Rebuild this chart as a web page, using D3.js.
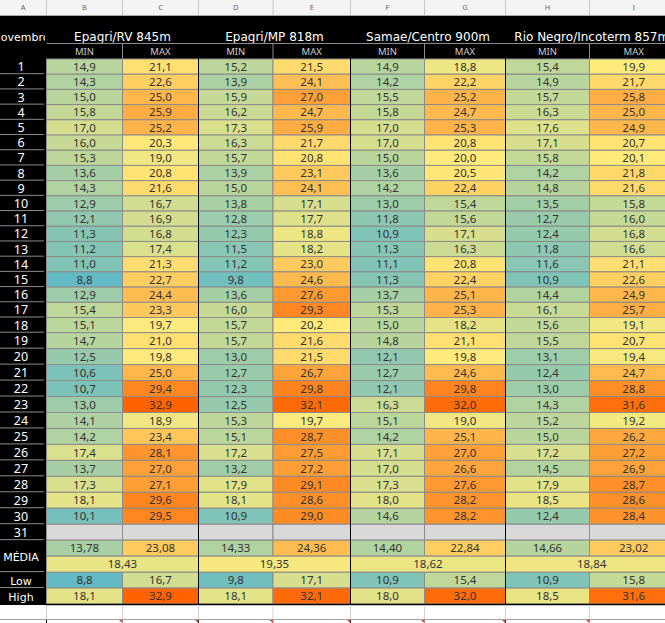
<!DOCTYPE html>
<html>
<head>
<meta charset="utf-8">
<script src="https://cdn.jsdelivr.net/npm/d3@7"></script>
<style>
  body { margin: 0; background: #fff; }
  svg { display: block; }
  text { font-family: "Noto Sans", sans-serif; }
  .wide { font-family: "DejaVu Sans", sans-serif; }
</style>
</head>
<body>
<div id="chart"></div>
<script>
const columnLetters = ["A", "B", "C", "D", "E", "F", "G", "H", "I"];
const stations = ["Epagri/RV 845m", "Epagri/MP 818m", "Samae/Centro 900m", "Rio Negro/Incoterm 857m"];
const days = d3.range(1, 32);

const rvMin = [14.9,14.3,15.0,15.8,17.0,16.0,15.3,13.6,14.3,12.9,12.1,11.3,11.2,11.0,8.8,12.9,15.4,15.1,14.7,12.5,10.6,10.7,13.0,14.1,14.2,17.4,13.7,17.3,18.1,10.1];
const rvMax = [21.1,22.6,25.0,25.9,25.2,20.3,19.0,20.8,21.6,16.7,16.9,16.8,17.4,21.3,22.7,24.4,23.3,19.7,21.0,19.8,25.0,29.4,32.9,18.9,23.4,28.1,27.0,27.1,29.6,29.5];
const mpMin = [15.2,13.9,15.9,16.2,17.3,16.3,15.7,13.9,15.0,13.8,12.8,12.3,11.5,11.2,9.8,13.6,16.0,15.7,15.7,13.0,12.7,12.3,12.5,15.3,15.1,17.2,13.2,17.9,18.1,10.9];
const mpMax = [21.5,24.1,27.0,24.7,25.9,21.7,20.8,23.1,24.1,17.1,17.7,18.8,18.2,23.0,24.6,27.6,29.3,20.2,21.6,21.5,26.7,29.8,32.1,19.7,28.7,27.5,27.2,29.1,28.6,29.0];
const samaeMin = [14.9,14.2,15.5,15.8,17.0,17.0,15.0,13.6,14.2,13.0,11.8,10.9,11.3,11.1,11.3,13.7,15.3,15.0,14.8,12.1,12.7,12.1,16.3,15.1,14.2,17.1,17.0,17.3,18.0,14.6];
const samaeMax = [18.8,22.2,25.2,24.7,25.3,20.8,20.0,20.5,22.4,15.4,15.6,17.1,16.3,20.8,22.4,25.1,25.3,18.2,21.1,19.8,24.6,29.8,32.0,19.0,25.1,27.0,26.6,27.6,28.2,28.2];
const rnMin = [15.4,14.9,15.7,16.3,17.6,17.1,15.8,14.2,14.8,13.5,12.7,12.4,11.8,11.6,10.9,14.4,16.1,15.6,15.5,13.1,12.4,13.0,14.3,15.2,15.0,17.2,14.5,17.9,18.5,12.4];
const rnMax = [19.9,21.7,25.8,25.0,24.9,20.7,20.1,21.8,21.6,15.8,16.0,16.8,16.6,21.1,22.6,24.9,25.7,19.1,20.7,19.4,24.7,28.8,31.6,19.2,26.2,27.2,26.9,28.7,28.6,28.4];

const meanMinMax = [13.78, 23.08, 14.33, 24.36, 14.40, 22.84, 14.66, 23.02];
const meanOverall = [18.43, 19.35, 18.62, 18.84];
const lowRow = [8.8, 16.7, 9.8, 17.1, 10.9, 15.4, 10.9, 15.8];
const highRow = [18.1, 32.9, 18.1, 32.1, 18.0, 32.0, 18.5, 31.6];

const series = [rvMin, rvMax, mpMin, mpMax, samaeMin, samaeMax, rnMin, rnMax];

const width = 665, height = 623;

const svg = d3.select("#chart").append("svg")
    .attr("width", width)
    .attr("height", height);

// column index -> x of left edge, the sheet columns are not all the same width
const x = d3.scaleLinear()
    .domain([0, 1, 2, 3, 4, 5, 6, 7, 8, 9])
    .range([0, 46.5, 122.5, 198.5, 273, 350.5, 424.5, 505.5, 589.5, 678]);

// row index -> y of top edge, rows get a bit taller after day 18
const y = d3.scaleLinear()
    .domain([1, 19, 36])
    .range([59, 332.7, 604]);

const color = d3.scaleLinear()
    .domain([8.8, 20, 32.9])
    .range(["#63bac5", "#ffeb7b", "#ff6200"]);

const comma = f => v => d3.format(f)(v).replace(".", ",");
const f1 = comma(".1f"), f2 = comma(".2f");

const gridGray = "#8c8c8c";

svg.append("defs").append("clipPath").attr("id", "clipA")
  .append("rect").attr("x", 0).attr("y", 20).attr("width", 45).attr("height", 30);

// black sheet area
svg.append("rect").attr("x", 0).attr("y", 16).attr("width", width).attr("height", 589).attr("fill", "#000");

// column letter strip
svg.append("rect").attr("x", 0).attr("y", 0).attr("width", width).attr("height", 15).attr("fill", "#f4f4f4");
svg.append("line").attr("x1", 0).attr("x2", width).attr("y1", 15.5).attr("y2", 15.5).attr("stroke", "#a8a8a8");
svg.selectAll(".letter").data(columnLetters).join("text")
    .attr("x", (d, i) => (x(i) + x(i + 1)) / 2)
    .attr("y", 10)
    .attr("text-anchor", "middle")
    .attr("font-size", 7.5)
    .attr("fill", "#666")
    .text(d => d);
svg.selectAll(".letterSep").data(d3.range(1, 9)).join("line")
    .attr("x1", d => x(d)).attr("x2", d => x(d))
    .attr("y1", 0).attr("y2", 15)
    .attr("stroke", "#c8c8c8");

// station titles
svg.selectAll(".station").data(stations).join("text")
    .attr("class", "wide")
    .attr("x", (d, i) => (x(2 * i + 1) + x(2 * i + 3)) / 2)
    .attr("y", 41)
    .attr("text-anchor", "middle")
    .attr("font-size", 12)
    .attr("fill", "#fff")
    .text(d => d);
svg.append("line").attr("x1", x(1)).attr("x2", width).attr("y1", 43.5).attr("y2", 43.5).attr("stroke", gridGray);

svg.append("text")
    .attr("class", "wide")
    .attr("clip-path", "url(#clipA)")
    .attr("x", 21).attr("y", 41)
    .attr("text-anchor", "middle")
    .attr("font-size", 11)
    .attr("fill", "#fff")
    .text("Novembro");

// MIN / MAX sub headers
svg.selectAll(".sub").data(d3.range(8)).join("text")
    .attr("x", d => (x(d + 1) + x(d + 2)) / 2)
    .attr("y", 55)
    .attr("text-anchor", "middle")
    .attr("font-size", 9.5)
    .attr("fill", "#ccc")
    .text(d => d % 2 ? "MAX" : "MIN");
svg.selectAll(".subSep").data([2, 4, 6, 8]).join("line")
    .attr("x1", d => x(d)).attr("x2", d => x(d))
    .attr("y1", 44).attr("y2", 59)
    .attr("stroke", gridGray);

// build the cells from the arrays
const cells = [];
series.forEach((s, c) => {
  days.forEach((day, i) => {
    cells.push({ c, r: day, span: 1, rows: 1, v: s[i] === undefined ? null : s[i], f: f1 });
  });
  cells.push({ c, r: 32, span: 1, rows: 1, v: meanMinMax[c], f: f2 });
  cells.push({ c, r: 34, span: 1, rows: 1, v: lowRow[c], f: f1 });
  cells.push({ c, r: 35, span: 1, rows: 1, v: highRow[c], f: f1 });
});
meanOverall.forEach((v, i) => cells.push({ c: 2 * i, r: 33, span: 2, rows: 1, v, f: f2 }));

svg.selectAll(".cell").data(cells).join("rect")
    .attr("x", d => x(d.c + 1))
    .attr("y", d => y(d.r))
    .attr("width", d => x(d.c + 1 + d.span) - x(d.c + 1))
    .attr("height", d => y(d.r + d.rows) - y(d.r))
    .attr("fill", d => d.v === null ? "#d9d9d9" : color(d.v))
    .attr("stroke", gridGray)
    .attr("stroke-width", 1);

svg.selectAll(".val").data(cells.filter(d => d.v !== null)).join("text")
    .attr("x", d => (x(d.c + 1) + x(d.c + 1 + d.span)) / 2)
    .attr("y", d => (y(d.r) + y(d.r + 1)) / 2 + 4.2)
    .attr("text-anchor", "middle")
    .attr("font-size", 11.5)
    .attr("fill", "#333")
    .text(d => d.f(d.v));

// black separators between stations
svg.selectAll(".stationSep").data([3, 5, 7]).join("line")
    .attr("x1", d => x(d)).attr("x2", d => x(d))
    .attr("y1", 44).attr("y2", 604)
    .attr("stroke", "#000");

// row labels on the left
const rowLabels = days.map(d => ({ r: d, rows: 1, t: String(d) }))
    .concat([{ r: 32, rows: 2, t: "MÉDIA" }, { r: 34, rows: 1, t: "Low" }, { r: 35, rows: 1, t: "High" }]);

svg.selectAll(".rowLabel").data(rowLabels).join("text")
    .attr("class", d => d.r > 31 ? "wide" : null)
    .attr("x", 21)
    .attr("y", d => (y(d.r) + y(d.r + d.rows)) / 2 + 4.6)
    .attr("text-anchor", "middle")
    .attr("font-size", d => d.r > 31 ? 11 : 12.5)
    .attr("fill", "#fff")
    .text(d => d.t);
svg.selectAll(".rowLine").data(rowLabels.slice(0, -1)).join("line")
    .attr("x1", 0).attr("x2", 44)
    .attr("y1", d => y(d.r + d.rows) - 0.5).attr("y2", d => y(d.r + d.rows) - 0.5)
    .attr("stroke", gridGray);

// bottom of the sheet, empty row and comment markers
svg.append("rect").attr("x", 0).attr("y", 605).attr("width", width).attr("height", 18).attr("fill", "#fff");
svg.append("line").attr("x1", x(1) - 2).attr("x2", width).attr("y1", 604.5).attr("y2", 604.5).attr("stroke", "#000").attr("stroke-width", 1.5);
svg.selectAll(".footSep").data(d3.range(1, 9)).join("line")
    .attr("x1", d => x(d)).attr("x2", d => x(d))
    .attr("y1", 605).attr("y2", 619)
    .attr("stroke", "#d4d4d4");
svg.append("line").attr("x1", 0).attr("x2", width).attr("y1", 619.5).attr("y2", 619.5).attr("stroke", "#a0a0a0");
svg.selectAll(".footBlack").data(d3.range(1, 9)).join("line")
    .attr("x1", d => x(d)).attr("x2", d => x(d))
    .attr("y1", 620).attr("y2", 623)
    .attr("stroke", d => d % 2 ? "#000" : "#bbb");
svg.selectAll(".mark").data(d3.range(2, 9)).join("path")
    .attr("d", d => d3.line()([[x(d) - 3.5, 620], [x(d), 620], [x(d), 623]]) + "Z")
    .attr("fill", "#d23c2a");
</script>
</body>
</html>
